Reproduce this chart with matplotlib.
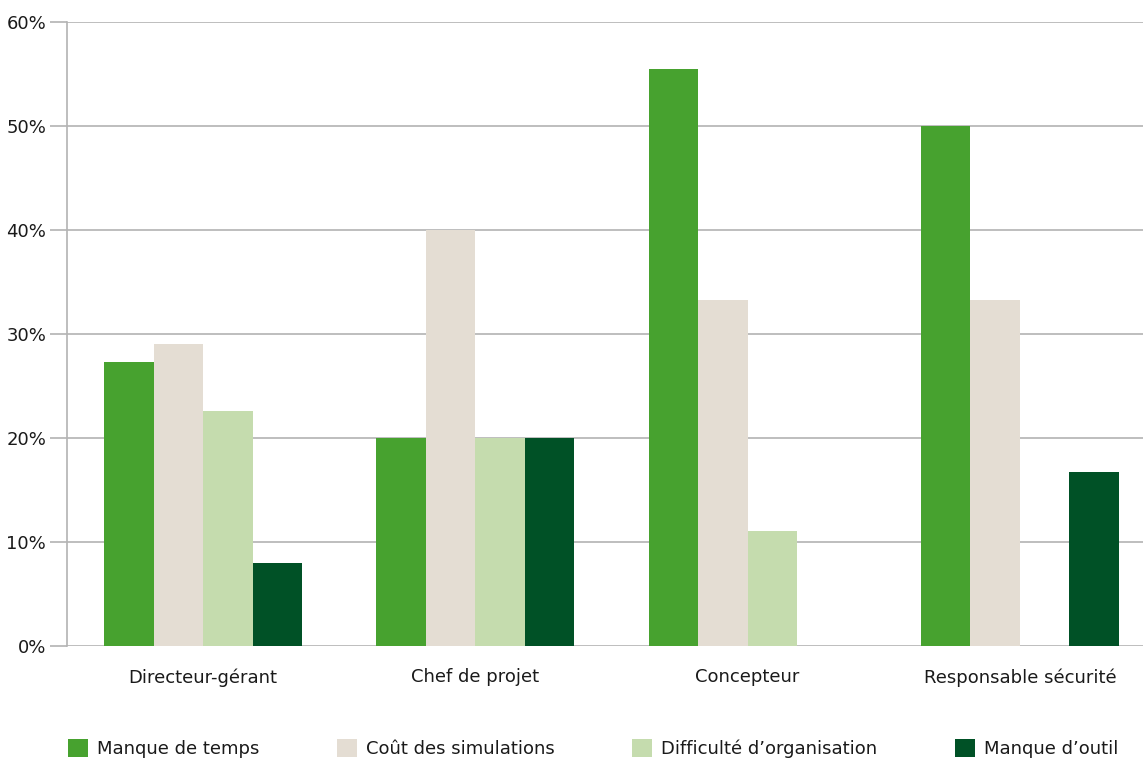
import matplotlib.pyplot as plt
import numpy as np
from matplotlib.patches import Patch

# données (%)
categories = ['Directeur-gérant', 'Chef de projet', 'Concepteur', 'Responsable sécurité']
series_names = ['Manque de temps', 'Coût des simulations',
                'Difficulté d\u2019organisation', 'Manque d\u2019outil']
manque_temps = [27.3, 20.0, 55.5, 50.0]
cout_simulations = [29.0, 40.0, 33.3, 33.3]
difficulte_orga = [22.6, 20.0, 11.1, 0.0]
manque_outil = [8.0, 20.0, 0.0, 16.7]
y_ticks = [0, 10, 20, 30, 40, 50, 60]

colors = ['#47a22f', '#e4ddd3', '#c5dcae', '#005126']
grid_color = '#b3b3b3'
text_color = '#1a1a1a'

plt.rcParams['font.family'] = 'DejaVu Sans'

fig = plt.figure(figsize=(11.43, 7.58), dpi=100)
ax = fig.add_axes([67 / 1143, 112 / 758, 1089 / 1143, 624 / 758])

x = np.arange(len(categories))
w = 0.182
values = [manque_temps, cout_simulations, difficulte_orga, manque_outil]
for i, (vals, c) in enumerate(zip(values, colors)):
    ax.bar(x + (i - 1.5) * w, vals, width=w, color=c, zorder=3)

ax.set_xlim(-0.5, 3.5)
ax.set_ylim(0, 60)
ax.set_yticks(y_ticks)
ax.set_yticklabels([f'{v}%' for v in y_ticks], fontsize=13, color=text_color)
ax.set_xticks(x)
ax.set_xticklabels(categories, fontsize=13, color=text_color)

ax.grid(True, axis='y', color=grid_color, linewidth=1.2, zorder=0)
ax.tick_params(axis='y', length=12, width=1.2, color=grid_color, pad=3)
ax.tick_params(axis='x', length=0, pad=16)
for s in ['top', 'right', 'bottom']:
    ax.spines[s].set_visible(False)
ax.spines['left'].set_color(grid_color)
ax.spines['left'].set_linewidth(1.2)

handles = [Patch(facecolor=c, label=n) for c, n in zip(colors, series_names)]
leg = fig.legend(handles=handles, loc='lower left', bbox_to_anchor=(68 / 1143, 0.0),
                 ncol=4, frameon=False, fontsize=13, handlelength=1.1, handleheight=1.1,
                 handletextpad=0.5, columnspacing=4.3, borderpad=0.0, borderaxespad=0.0)
for t in leg.get_texts():
    t.set_color(text_color)

plt.savefig('out.png', dpi=100)
